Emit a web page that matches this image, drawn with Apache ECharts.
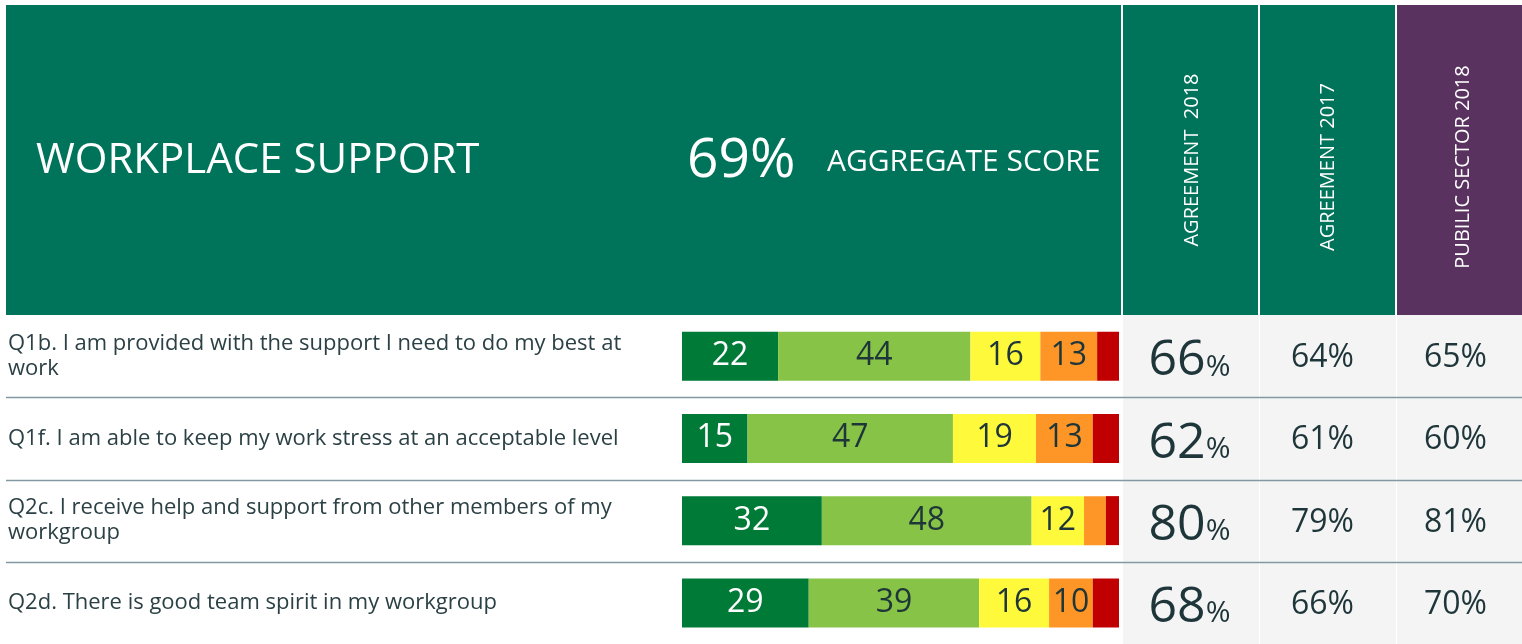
<!DOCTYPE html>
<html>
<head>
<meta charset="utf-8">
<script src="https://cdn.jsdelivr.net/npm/echarts@6/dist/echarts.min.js"></script>
<style>
  html, body { margin: 0; padding: 0; background: #ffffff; }
  #chart { width: 1522px; height: 644px; }
</style>
</head>
<body>
<div id="chart"></div>
<script>
// data
var questions = [
  "Q1b. I am provided with the support I need to do my best at work",
  "Q1f. I am able to keep my work stress at an acceptable level",
  "Q2c. I receive help and support from other members of my workgroup",
  "Q2d. There is good team spirit in my workgroup"
];
var stronglyAgree = [22, 15, 32, 29];
var agree = [44, 47, 48, 39];
var neutral = [16, 19, 12, 16];
var disagree = [13, 13, 5, 10];
var stronglyDisagree = [5, 6, 3, 6];

var agreement2018 = [66, 62, 80, 68];
var agreement2017 = [64, 61, 79, 66];
var publicSector2018 = [65, 60, 81, 70];

var aggregateScore = 69;
var sectionTitle = "WORKPLACE SUPPORT";
var columnTitles = ["AGREEMENT  2018", "AGREEMENT 2017", "PUBILIC SECTOR 2018"];

var FONT = "'Open Sans', sans-serif";
var DARK = "#1e3539";
var HEADER_GREEN = "#00745a";
var PURPLE = "#5a3260";

var chart = echarts.init(document.getElementById("chart"));

function barSeries(name, values, color, labelColor) {
  return {
    name: name,
    type: "bar",
    stack: "total",
    xAxisIndex: 0,
    yAxisIndex: 0,
    barWidth: 49,
    itemStyle: { color: color },
    label: {
      show: true,
      position: "inside",
      color: labelColor,
      fontFamily: FONT,
      fontSize: 32,
      formatter: function (p) { return p.value >= 8 ? p.value : ""; }
    },
    silent: true,
    data: values
  };
}

// right table points: [column, row, value]
var tableData = [];
[agreement2018, agreement2017, publicSector2018].forEach(function (arr, c) {
  arr.forEach(function (v, r) { tableData.push([c, r, v]); });
});

chart.setOption({
  animation: false,
  grid: [
    { left: 682, top: 315, width: 437, height: 332 },
    { left: 1123, top: 315, width: 408, height: 332 }
  ],
  xAxis: [
    { type: "value", gridIndex: 0, min: 0, max: 100, show: false },
    { type: "category", gridIndex: 1, data: columnTitles, show: false }
  ],
  yAxis: [
    {
      type: "category",
      gridIndex: 0,
      inverse: true,
      data: questions,
      axisLine: { show: false },
      axisTick: { show: false },
      axisLabel: {
        align: "left",
        margin: 674,
        width: 650,
        overflow: "break",
        fontFamily: FONT,
        fontSize: 22,
        lineHeight: 25,
        color: "#2c4145",
        padding: [4, 0, 0, 0]
      }
    },
    { type: "category", gridIndex: 1, inverse: true, data: questions, show: false }
  ],
  graphic: [
    { type: "rect", shape: { x: 1123, y: 315, width: 399, height: 329 }, style: { fill: "#f4f4f4" }, z: -10 },
    { type: "rect", shape: { x: 1259, y: 315, width: 1, height: 329 }, style: { fill: "#ffffff" }, z: -9 },
    { type: "rect", shape: { x: 1396, y: 315, width: 1, height: 329 }, style: { fill: "#ffffff" }, z: -9 },
    { type: "rect", shape: { x: 6, y: 5, width: 1115, height: 310 }, style: { fill: HEADER_GREEN } },
    { type: "rect", shape: { x: 1123, y: 5, width: 135, height: 310 }, style: { fill: HEADER_GREEN } },
    { type: "rect", shape: { x: 1260, y: 5, width: 135, height: 310 }, style: { fill: HEADER_GREEN } },
    { type: "rect", shape: { x: 1397, y: 5, width: 125, height: 310 }, style: { fill: PURPLE } },
    { type: "text", x: 36, y: 161, style: { text: sectionTitle, fill: "#ffffff", font: "42px " + FONT, textAlign: "left", textVerticalAlign: "middle" } },
    { type: "text", x: 687, y: 161, style: { text: aggregateScore + "%", fill: "#ffffff", font: "55px " + FONT, textAlign: "left", textVerticalAlign: "middle" } },
    { type: "text", x: 827, y: 162, style: { text: "AGGREGATE SCORE", fill: "#ffffff", font: "30px " + FONT, textAlign: "left", textVerticalAlign: "middle" } },
    { type: "text", x: 1192, y: 160, rotation: Math.PI / 2, style: { text: columnTitles[0], fill: "#ffffff", font: "20px " + FONT, textAlign: "center", textVerticalAlign: "middle" } },
    { type: "text", x: 1328, y: 167, rotation: Math.PI / 2, style: { text: columnTitles[1], fill: "#ffffff", font: "20px " + FONT, textAlign: "center", textVerticalAlign: "middle" } },
    { type: "text", x: 1463, y: 167, rotation: Math.PI / 2, style: { text: columnTitles[2], fill: "#ffffff", font: "20px " + FONT, textAlign: "center", textVerticalAlign: "middle" } }
  ],
  series: [
    barSeries("Strongly agree", stronglyAgree, "#007a37", "#ffffff"),
    barSeries("Agree", agree, "#86c346", DARK),
    barSeries("Neutral", neutral, "#fff93b", DARK),
    barSeries("Disagree", disagree, "#fd9627", DARK),
    Object.assign(barSeries("Strongly disagree", stronglyDisagree, "#c00000", DARK), { label: { show: false } }),
    {
      type: "scatter",
      xAxisIndex: 1,
      yAxisIndex: 1,
      symbolSize: 1,
      itemStyle: { color: "rgba(0,0,0,0)", opacity: 1 },
      silent: true,
      data: tableData,
      label: {
        show: true,
        position: "inside",
        color: DARK,
        fontFamily: FONT,
        fontSize: 32,
        padding: [4, 0, 0, 0],
        formatter: function (p) {
          return p.value[0] === 0 ? "{big|" + p.value[2] + "}{small|%}" : p.value[2] + "%";
        },
        rich: {
          big: { fontFamily: FONT, fontSize: 50, color: DARK, lineHeight: 56, verticalAlign: "bottom" },
          small: { fontFamily: FONT, fontSize: 30, color: DARK, lineHeight: 56, verticalAlign: "bottom", padding: [0, 0, 4, 0] }
        }
      }
    }
  ]
});

// row separators across the full width, placed between category bands
var lines = [];
for (var i = 1; i < questions.length; i++) {
  var a = chart.convertToPixel({ yAxisIndex: 0 }, questions[i - 1]);
  var b = chart.convertToPixel({ yAxisIndex: 0 }, questions[i]);
  var y = Math.round((a + b) / 2) + 0.5;
  lines.push({ type: "line", shape: { x1: 6, y1: y, x2: 1522, y2: y }, style: { stroke: "#8299a1", lineWidth: 1.5 }, z: -5 });
}
var opt = chart.getOption();
chart.setOption({ graphic: opt.graphic[0].elements.concat(lines) });

window.addEventListener("resize", function () { chart.resize(); });
</script>
</body>
</html>
